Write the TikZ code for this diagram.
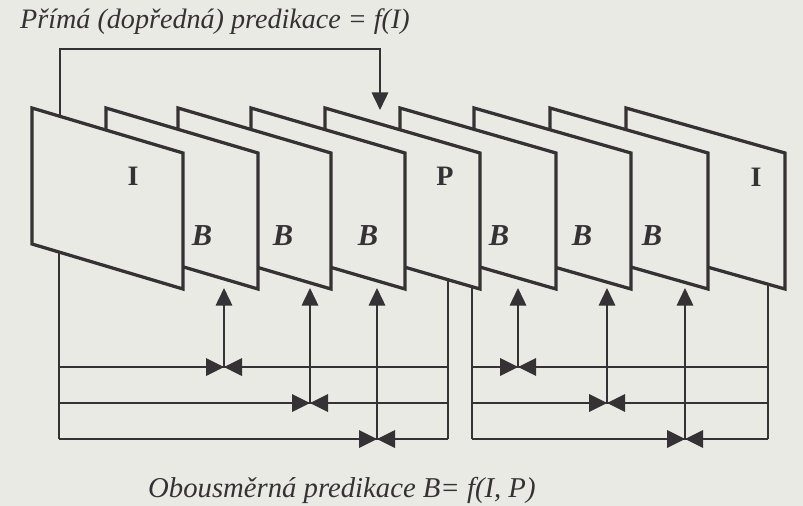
\documentclass[tikz,border=0pt]{standalone}
\usepackage{fontspec}
\setmainfont{Liberation Serif}
\usetikzlibrary{arrows.meta}
\definecolor{paper}{RGB}{234,234,229}
\definecolor{ink}{RGB}{52,50,52}
\begin{document}
\begin{tikzpicture}[x=0.03cm,y=-0.03cm,
  frame/.style={draw=ink,fill=paper,line width=2.8pt,line join=miter},
  conn/.style={draw=ink,line width=1.8pt},
  tip/.style={-{Triangle[length=15pt,width=14pt]}},
  lblI/.style={text=ink,font=\fontsize{24}{26}\selectfont\bfseries},
  lblB/.style={text=ink,font=\fontsize{26}{28}\selectfont\bfseries\itshape},
  caption/.style={text=ink,font=\fontsize{24}{28}\selectfont\itshape,inner sep=0pt},
  bowtie/.pic={\fill[ink] (0,0) -- (-18,-9) -- (-18,9) -- cycle;
               \fill[ink] (0,0) -- (18,-9) -- (18,9) -- cycle;}]
\fill[paper] (0,0) rectangle (803,506);
\useasboundingbox (0,0) rectangle (803,506);
% frames, back to front
\foreach \k/\L in {9/626,8/550,7/474,6/400,5/325,4/251,3/178,2/106,1/32}{
  \pgfmathsetmacro{\R}{\L+150+\k}
  \draw[frame] (\L,108) coordinate (f\k tl) -- (\R,153) coordinate (f\k tr)
    -- (\R,289) coordinate (f\k br) -- (\L,244) coordinate (f\k bl) -- cycle;
}
% labels
\node[lblI] (n1) at (133,176) {I};
\node[lblB] (n2) at (202,236) {B};
\node[lblB] (n3) at (283,236) {B};
\node[lblB] (n4) at (368,236) {B};
\node[lblI] (n5) at (445,176) {P};
\node[lblB] (n6) at (499,236) {B};
\node[lblB] (n7) at (582,236) {B};
\node[lblB] (n8) at (652,236) {B};
\node[lblI] (n9) at (756,177) {I};
% forward prediction
\coordinate (ta) at (60,116);
\coordinate (tc1) at (60,49);
\coordinate (tc2) at (380,49);
\coordinate (tb) at (380,110);
\draw[conn,tip] (ta) -- (tc1) -- (tc2) -- (tb);
\node[caption,anchor=base west] (title) at (20,29) {Přímá (dopředná) predikace = f(I)};
% left group
\coordinate (La) at (59,252);
\coordinate (Lb) at (59,439);
\coordinate (Ra) at (448,280);
\coordinate (Rb) at (448,439);
\draw[conn] (La) -- (Lb);
\draw[conn] (Ra) -- (Rb);
\foreach \y in {367,403}{
  \coordinate (Lr\y) at (59,\y);
  \coordinate (Rr\y) at (448,\y);
  \draw[conn] (Lr\y) -- (Rr\y);
}
\draw[conn] (Lb) -- (Rb);
% right group
\coordinate (Sa) at (472,287);
\coordinate (Sb) at (472,439);
\coordinate (Ta) at (768,285);
\coordinate (Tb) at (768,439);
\draw[conn] (Sa) -- (Sb);
\draw[conn] (Ta) -- (Tb);
\foreach \y in {367,403}{
  \coordinate (Sr\y) at (472,\y);
  \coordinate (Tr\y) at (768,\y);
  \draw[conn] (Sr\y) -- (Tr\y);
}
\draw[conn] (Sb) -- (Tb);
% bidirectional prediction arrows
\foreach \i/\x/\y in {1/224/367,2/310/403,3/377/439,4/518/367,5/607/403,6/685/439}{
  \coordinate (j\i) at (\x,\y);
  \coordinate (u\i) at (\x,288);
  \draw[conn,tip] (j\i) -- (u\i);
  \pic at (j\i) {bowtie};
}
\node[caption,anchor=base west,font=\fontsize{24.5}{28}\selectfont\itshape] (bottom) at (148,497) {Obousměrná predikace B= f(I, P)};
\end{tikzpicture}
\end{document}
